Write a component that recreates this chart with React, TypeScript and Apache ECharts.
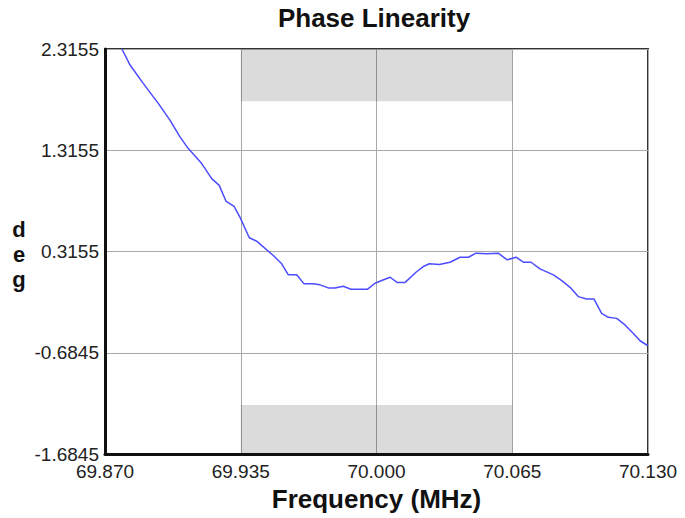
import React, { useEffect, useRef } from 'react';
import * as echarts from 'echarts';

const freqMHz = [
  69.8781, 69.882, 69.8883, 69.8955, 69.9011, 69.9059, 69.9099, 69.9163, 69.9211, 69.9247,
  69.9279, 69.9318, 69.9346, 69.9391, 69.9426, 69.9506, 69.9546, 69.9578, 69.9618, 69.9653,
  69.9697, 69.9729, 69.9769, 69.9801, 69.9841, 69.9878, 69.9956, 69.9993, 70.0025, 70.0065,
  70.01, 70.0136, 70.0189, 70.0224, 70.0253, 70.0301, 70.0352, 70.04, 70.044, 70.0476,
  70.0528, 70.0583, 70.0626, 70.0668, 70.0703, 70.074, 70.0783, 70.0847, 70.0887, 70.0927,
  70.0966, 70.1006, 70.1041, 70.1078, 70.111, 70.115, 70.119, 70.123, 70.1262, 70.1294, 70.13,
];
const phaseDeg = [
  2.3155, 2.157, 1.976, 1.778, 1.6125, 1.447, 1.332, 1.184, 1.035, 0.969,
  0.8135, 0.761, 0.6555, 0.4515, 0.4175, 0.276, 0.194, 0.085, 0.085, -0.004,
  -0.004, -0.014, -0.044, -0.044, -0.028, -0.058, -0.058, 0.002, 0.0285, 0.061,
  0.0085, 0.0085, 0.1105, 0.167, 0.194, 0.187, 0.2095, 0.259, 0.259, 0.2987,
  0.2927, 0.2987, 0.2333, 0.259, 0.2095, 0.2095, 0.144, 0.085, 0.0285, -0.038,
  -0.13, -0.153, -0.153, -0.2955, -0.335, -0.345, -0.41, -0.4935, -0.566, -0.608, -0.612,
];
const xTicks = [69.87, 69.935, 70.0, 70.065, 70.13];
const yTicks = [-1.6845, -0.6845, 0.3155, 1.3155, 2.3155];
const bandX = [69.935, 70.065];
const bandTop = [1.8, 2.3155];
const bandBottom = [-1.6845, -1.2];

const FONT = '"Liberation Sans", Arial, Helvetica, sans-serif';

export default function App() {
  const ref = useRef<HTMLDivElement>(null);
  useEffect(() => {
    document.body.style.margin = '0';
    if (!ref.current) return;
    const chart = echarts.init(ref.current, null, { renderer: 'svg' });
    const data = freqMHz.map((f, i) => [f, phaseDeg[i]]);
    chart.setOption({
      animation: false,
      backgroundColor: '#ffffff',
      textStyle: { fontFamily: FONT },
      graphic: [
        {
          type: 'text',
          x: 374,
          y: 18,
          style: {
            text: 'Phase Linearity',
            textAlign: 'center',
            textVerticalAlign: 'middle',
            font: `bold 26px ${FONT}`,
            fill: '#111',
          },
        },
        {
          type: 'text',
          x: 19,
          y: 254,
          style: {
            text: 'd\ne\ng',
            textAlign: 'center',
            textVerticalAlign: 'middle',
            font: `bold 22px ${FONT}`,
            lineHeight: 25,
            fill: '#111',
          },
        },
      ],
      grid: {
        left: 105,
        right: 37,
        top: 49,
        bottom: 64,
        show: true,
        borderColor: '#333',
        borderWidth: 2,
      },
      xAxis: {
        type: 'value',
        min: 69.87,
        max: 70.13,
        axisLine: { show: true, onZero: false, lineStyle: { color: '#111', width: 3 } },
        axisTick: { show: false, customValues: xTicks },
        axisLabel: {
          customValues: xTicks,
          formatter: (v: number) => v.toFixed(3),
          fontSize: 19,
          color: '#222',
          margin: 8,
          fontFamily: FONT,
        },
        splitLine: { show: true, lineStyle: { color: '#a8a8a8', width: 1 } },
        name: 'Frequency (MHz)',
        nameLocation: 'middle',
        nameGap: 28,
        nameTextStyle: { fontSize: 26, fontWeight: 'bold', color: '#111', fontFamily: FONT },
      },
      yAxis: {
        type: 'value',
        min: -1.6845,
        max: 2.3155,
        axisLine: { show: true, onZero: false, lineStyle: { color: '#111', width: 3 } },
        axisTick: { show: false, customValues: yTicks },
        axisLabel: {
          customValues: yTicks,
          formatter: (v: number) => v.toFixed(4),
          fontSize: 19,
          color: '#222',
          margin: 6,
          fontFamily: FONT,
        },
        splitLine: { show: true, lineStyle: { color: '#a8a8a8', width: 1 } },
      },
      series: [
        {
          type: 'line',
          data,
          showSymbol: false,
          symbol: 'none',
          lineStyle: { color: '#4d4dff', width: 1.5 },
          markArea: {
            silent: true,
            itemStyle: { color: 'rgba(0,0,0,0.14)' },
            data: [
              [
                { xAxis: bandX[0], yAxis: bandTop[0] },
                { xAxis: bandX[1], yAxis: bandTop[1] },
              ],
              [
                { xAxis: bandX[0], yAxis: bandBottom[0] },
                { xAxis: bandX[1], yAxis: bandBottom[1] },
              ],
            ],
          },
        },
      ],
    });
    return () => chart.dispose();
  }, []);
  return <div ref={ref} style={{ width: 685, height: 518 }} />;
}
